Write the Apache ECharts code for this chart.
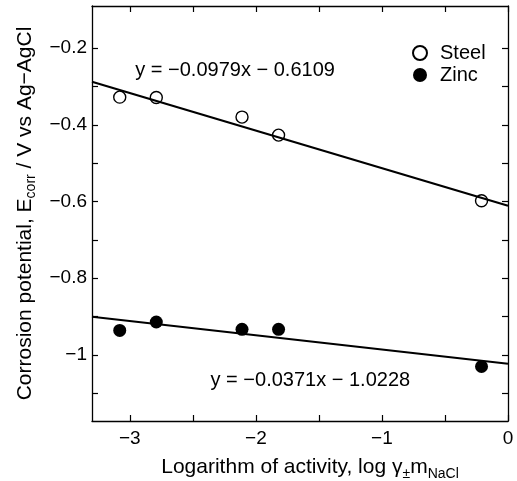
<!DOCTYPE html>
<html>
<head>
<meta charset="utf-8">
<script src="https://cdn.jsdelivr.net/npm/echarts@6/dist/echarts.min.js"></script>
<style>
html,body{margin:0;padding:0;background:#fff;}
#chart{width:517px;height:481px;}
</style>
</head>
<body>
<div id="chart"></div>
<script>
// ---- data ----
const seriesNames = ['Steel', 'Zinc'];
const logActivity = [-3.08, -2.79, -2.11, -1.82, -0.21];
const steelPotential = [-0.328, -0.329, -0.380, -0.427, -0.598];
const zincPotential = [-0.936, -0.914, -0.933, -0.933, -1.030];
const fitSlopes = [-0.0979, -0.0371];
const fitIntercepts = [-0.6109, -1.0228];
const equationTexts = ['y = \u22120.0979x \u2212 0.6109', 'y = \u22120.0371x \u2212 1.0228'];
const equationAnchorX = [-2.165, -1.568];
const equationAnchorY = [-0.259, -1.066];
const xTickValues = [-3, -2.5, -2, -1.5, -1, -0.5, 0];
const xLabelValues = [-3, -2, -1, 0];
const yTickValues = [-1.1, -1, -0.9, -0.8, -0.7, -0.6, -0.5, -0.4, -0.3, -0.2];
const yLabelValues = [-1, -0.8, -0.6, -0.4, -0.2];
const xMin = -3.3, xMax = 0;
const yMin = -1.172, yMax = -0.0905;

const FONT = '"Liberation Sans", Arial, Helvetica, sans-serif';
const fmt = v => {
  const r = Math.round(v * 10) / 10;
  if (r === 0) return '0';
  const s = Math.abs(r).toString();
  return (r < 0 ? '\u2212' : '') + s;
};

const fitLine = i => [[xMin, fitSlopes[i] * xMin + fitIntercepts[i]], [xMax, fitSlopes[i] * xMax + fitIntercepts[i]]];

const axisLineStyle = {show: true, onZero: false, lineStyle: {color: '#000', width: 1.3}};
const tickStyle = {show: true, inside: true, length: 6, lineStyle: {color: '#000', width: 1.2}};
const titleRich = {
  t: {fontFamily: FONT, fontSize: 21, color: '#000', lineHeight: 24, verticalAlign: 'bottom'},
  s: {fontFamily: FONT, fontSize: 14, color: '#000', lineHeight: 14, verticalAlign: 'bottom', padding: [0, 0, -3, 0]}
};

const chart = echarts.init(document.getElementById('chart'), null, {renderer: 'canvas'});
chart.setOption({
  animation: false,
  backgroundColor: '#fff',
  grid: {left: 92, right: 9, top: 6, bottom: 60, containLabel: false, outerBoundsMode: 'none'},
  legend: {
    orient: 'vertical', left: 407, top: 37, itemWidth: 14, itemHeight: 14, itemGap: 0,
    data: [
      {name: seriesNames[0], icon: 'circle'},
      {name: seriesNames[1], icon: 'circle'}
    ],
    textStyle: {fontFamily: FONT, fontSize: 20, color: '#000', lineHeight: 22, padding: [0, 0, 0, 8]}
  },
  xAxis: [{
    type: 'value', min: xMin, max: xMax, position: 'bottom',
    axisLine: axisLineStyle,
    axisTick: Object.assign({customValues: xTickValues}, tickStyle),
    splitLine: {show: false},
    axisLabel: {customValues: xLabelValues, formatter: fmt, margin: 8, fontFamily: FONT, fontSize: 19, color: '#000'},
    name: '{t|Logarithm of activity, log \u03b3}{s|\u00b1}{t|m}{s|NaCl}',
    nameLocation: 'middle', nameGap: 33,
    nameTextStyle: {rich: titleRich, padding: [0, 0, 0, 20]}
  }, {
    type: 'value', min: xMin, max: xMax, position: 'top',
    axisLine: axisLineStyle,
    axisTick: Object.assign({customValues: xTickValues}, tickStyle),
    splitLine: {show: false}, axisLabel: {show: false}
  }],
  yAxis: [{
    type: 'value', min: yMin, max: yMax, position: 'left',
    axisLine: axisLineStyle,
    axisTick: Object.assign({customValues: yTickValues}, tickStyle),
    splitLine: {show: false},
    axisLabel: {customValues: yLabelValues, formatter: fmt, margin: 5, fontFamily: FONT, fontSize: 19, color: '#000'},
    name: '{t|Corrosion potential, E}{s|corr}{t| / V vs Ag\u2212AgCl}',
    nameLocation: 'middle', nameGap: 53, nameRotate: 90,
    nameTextStyle: {rich: titleRich}
  }, {
    type: 'value', min: yMin, max: yMax, position: 'right',
    axisLine: axisLineStyle,
    axisTick: Object.assign({customValues: yTickValues}, tickStyle),
    splitLine: {show: false}, axisLabel: {show: false}
  }],
  series: [
    {
      name: seriesNames[0] + ' fit', type: 'line', data: fitLine(0), showSymbol: false, symbol: 'none',
      lineStyle: {color: '#000', width: 2.2}, silent: true, z: 3
    },
    {
      name: seriesNames[1] + ' fit', type: 'line', data: fitLine(1), showSymbol: false, symbol: 'none',
      lineStyle: {color: '#000', width: 2.2}, silent: true, z: 3
    },
    {
      name: seriesNames[0], type: 'scatter', symbol: 'circle', symbolSize: 12,
      itemStyle: {color: 'rgba(255,255,255,0)', borderColor: '#000', borderWidth: 1.4, opacity: 1},
      data: logActivity.map((x, i) => [x, steelPotential[i]]), z: 4
    },
    {
      name: seriesNames[1], type: 'scatter', symbol: 'circle', symbolSize: 13,
      itemStyle: {color: '#000', opacity: 1},
      data: logActivity.map((x, i) => [x, zincPotential[i]]), z: 4
    },
    {
      name: 'equations', type: 'scatter', symbolSize: 1, silent: true,
      itemStyle: {color: 'rgba(0,0,0,0)', opacity: 1},
      label: {show: true, position: 'inside', formatter: p => p.data.name,
        fontFamily: FONT, fontSize: 20, color: '#000', opacity: 1},
      data: equationTexts.map((t, i) => ({name: t, value: [equationAnchorX[i], equationAnchorY[i]]})),
      z: 5
    }
  ]
});
</script>
</body>
</html>
